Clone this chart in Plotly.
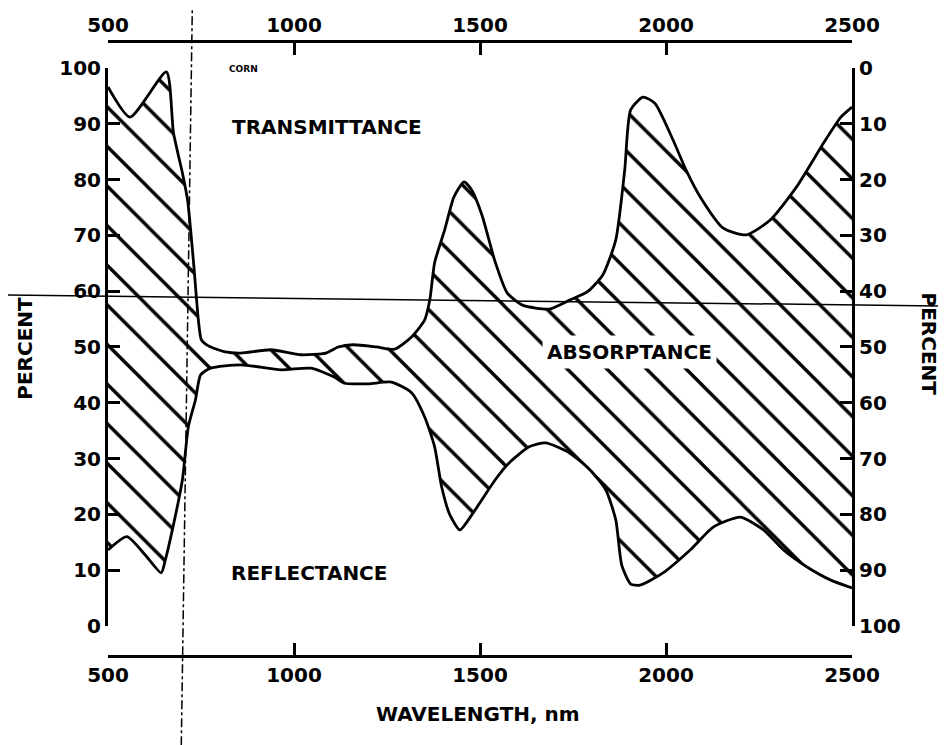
import plotly.graph_objects as go

# ---- data (corn leaf) ----
# Transmittance, read on the right-hand (inverted) percent axis
wl_t = [500, 559, 657, 676, 700, 714, 730, 743, 751, 770, 816, 857, 938, 1019, 1086, 1119,
        1159, 1222, 1270, 1316, 1351, 1365, 1378, 1405, 1430, 1457, 1478, 1505, 1541, 1573,
        1614, 1686, 1741, 1789, 1830, 1865, 1889, 1905, 1938, 1970, 2019, 2054, 2092, 2154,
        2216, 2281, 2351, 2424, 2470, 2500]
trans = [3.4, 8.8, 0.7, 11.6, 18.8, 23.7, 34.9, 45.2, 48.7, 49.8, 50.9, 51.1, 50.5, 51.4, 51.1, 50.0,
         49.6, 50.0, 50.4, 48.2, 45.2, 41.6, 34.9, 29.0, 23.1, 20.4, 21.9, 26.3, 34.8, 40.3,
         42.5, 43.2, 41.6, 40.1, 37.1, 30.8, 18.3, 7.5, 5.2, 6.3, 12.9, 18.3, 23.1, 28.7,
         29.9, 27.2, 21.3, 13.4, 8.8, 7.0]

# Reflectance, read on the left-hand percent axis
wl_r = [500, 551, 600, 643, 654, 673, 700, 716, 735, 749, 776, 857, 965, 1046, 1108, 1135,
        1200, 1262, 1316, 1351, 1378, 1397, 1419, 1446, 1478, 1505, 1541, 1578, 1632, 1676,
        1741, 1795, 1838, 1865, 1881, 1905, 1930, 1992, 2065, 2127, 2200, 2262, 2316, 2378,
        2443, 2500]
refl = [13.6, 16.0, 12.7, 9.5, 11.8, 17.2, 26.2, 35.7, 40.5, 45.0, 46.2, 46.8, 45.9, 46.2, 44.6, 43.5,
        43.4, 43.7, 41.8, 37.5, 32.1, 24.9, 19.9, 17.2, 19.9, 22.6, 26.2, 29.2, 32.1, 32.8,
        31.0, 28.0, 24.4, 19.0, 10.9, 7.5, 7.3, 9.5, 13.6, 17.7, 19.5, 17.2, 13.6, 10.6,
        8.2, 6.8]

x_ticks = [500, 1000, 1500, 2000, 2500]
y_ticks = [0, 10, 20, 30, 40, 50, 60, 70, 80, 90, 100]

# upper boundary of the absorptance band on the left scale
upper = [100 - t for t in trans]

FONT = "DejaVu Sans"
tickfont = dict(family=FONT, size=20, color="black", weight="bold")

fig = go.Figure()

# hatched absorptance band
fig.add_trace(go.Scatter(
    x=wl_t + wl_r[::-1], y=upper + refl[::-1],
    mode="lines", fill="toself", line=dict(width=0, shape="spline", smoothing=0.6),
    fillcolor="white",
    fillpattern=dict(shape="\\", fgcolor="black", bgcolor="white", fgopacity=1,
                     size=28, solidity=0.12),
    hoverinfo="skip", showlegend=False))

# reflectance curve
fig.add_trace(go.Scatter(x=wl_r, y=refl, mode="lines",
                         line=dict(color="black", width=2.8, shape="spline", smoothing=0.6),
                         showlegend=False))
# transmittance curve (right, inverted axis)
fig.add_trace(go.Scatter(x=wl_t, y=trans, mode="lines", xaxis="x2", yaxis="y2",
                         line=dict(color="black", width=2.8, shape="spline", smoothing=0.6),
                         showlegend=False))

ydom = [0.049, 0.956]
common_x = dict(range=[500, 2500], tickvals=x_ticks, ticktext=[str(v) for v in x_ticks],
                ticks="inside", ticklen=12, tickwidth=2.5, tickcolor="black",
                showline=True, linewidth=3, linecolor="black", showgrid=False,
                zeroline=False, tickfont=tickfont, fixedrange=True, automargin=False)
common_y = dict(tickvals=y_ticks, ticktext=[str(v) for v in y_ticks],
                ticks="inside", ticklen=12, tickwidth=2.5, tickcolor="black",
                showline=True, linewidth=3, linecolor="black", showgrid=False,
                zeroline=False, tickfont=tickfont, fixedrange=True, automargin=False)

# the page body adds an 8px offset, so the figure is sized to fit the window
fig.update_layout(
    width=938, height=737,
    margin=dict(l=100, r=94, t=33, b=89, autoexpand=False),
    paper_bgcolor="white", plot_bgcolor="white",
    showlegend=False,
    xaxis=dict(**common_x, anchor="free", position=0, side="bottom"),
    xaxis2=dict(**common_x, anchor="free", position=1, side="top", overlaying="x"),
    yaxis=dict(**common_y, range=[0, 100], domain=ydom, anchor="x", side="left"),
    yaxis2=dict(**common_y, range=[100, 0], overlaying="y", anchor="x2", side="right"),
)

lab = dict(family=FONT, size=20, color="black", weight="bold")
ann = [
    dict(x=865, y=99.8, xref="x", yref="y", text="CORN", showarrow=False,
         font=dict(family=FONT, size=9, color="black", weight="bold")),
    dict(x=1089, y=89.4, xref="x", yref="y", text="TRANSMITTANCE", showarrow=False, font=lab),
    dict(x=1903, y=49.1, xref="x", yref="y", text="ABSORPTANCE", showarrow=False, font=lab,
         bgcolor="white", borderpad=4),
    dict(x=1041, y=9.5, xref="x", yref="y", text="REFLECTANCE", showarrow=False, font=lab),
    dict(x=0.497, y=-0.117, xref="paper", yref="paper", text="WAVELENGTH, nm",
         showarrow=False, font=lab, xanchor="center"),
    dict(x=-0.112, y=49.8, xref="paper", yref="y", text="PERCENT", showarrow=False,
         textangle=-90, font=lab, xanchor="center", yanchor="middle"),
    dict(x=1.103, y=50.5, xref="paper", yref="y", text="PERCENT", showarrow=False,
         textangle=90, font=lab, xanchor="center", yanchor="middle"),
]
fig.update_layout(annotations=ann)

# reference marks present on the original figure
fig.add_shape(type="line", xref="x", yref="paper", x0=697, x1=727, y0=-0.145, y1=1.067,
              line=dict(color="black", width=1.5, dash="dashdot"))
fig.add_shape(type="line", xref="paper", yref="paper", x0=-0.146, x1=1.132, y0=0.587, y1=0.569,
              line=dict(color="black", width=1.5))

fig.write_html("out.html")
